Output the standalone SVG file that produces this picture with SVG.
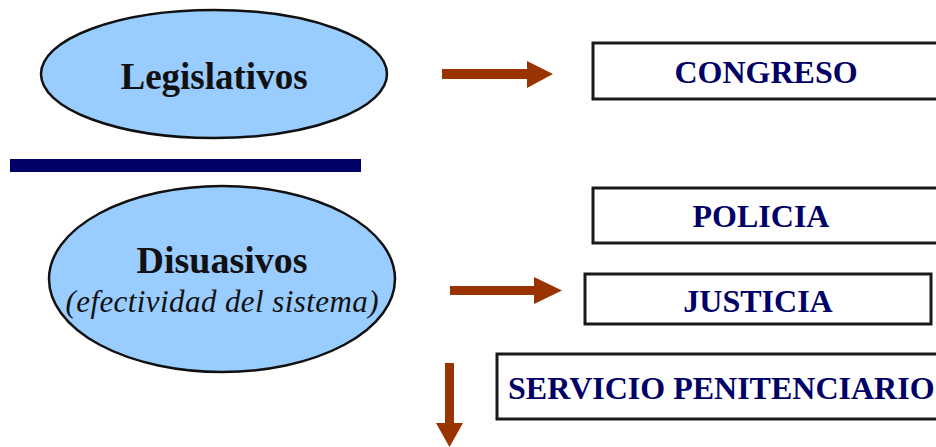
<svg xmlns="http://www.w3.org/2000/svg" width="936" height="447" viewBox="0 0 936 447">
<style>
.ell{fill:#99CCFF;stroke:#111;stroke-width:2.5}
.box{fill:#fff;stroke:#1a1a1a;stroke-width:3}
.et{font-family:"Liberation Serif",serif;font-weight:bold;fill:#111;text-anchor:middle}
.bt{font-family:"Liberation Serif",serif;font-weight:bold;fill:#000066;text-anchor:middle;font-size:32px}
.arr{fill:#993300}
</style>
<rect width="936" height="447" fill="#fff"/>
<g id="legislativos">
<ellipse class="ell" cx="214" cy="74" rx="173" ry="64"/>
<text class="et" x="214" y="89" font-size="37">Legislativos</text>
</g>
<g id="divider">
<rect x="10" y="159" width="351" height="13" fill="#000066"/>
</g>
<g id="disuasivos">
<ellipse class="ell" cx="222" cy="279" rx="173" ry="93"/>
<text class="et" x="222" y="273" font-size="38">Disuasivos</text>
<text x="222" y="312" font-family="Liberation Serif,serif" font-style="italic" font-size="31" fill="#111" text-anchor="middle" textLength="313">(efectividad del sistema)</text>
</g>
<g id="congreso">
<rect class="box" x="593" y="43" width="360" height="56"/>
<text class="bt" x="766" y="83">CONGRESO</text>
</g>
<g id="policia">
<rect class="box" x="593" y="188" width="360" height="55"/>
<text class="bt" x="761" y="227">POLICIA</text>
</g>
<g id="justicia">
<rect class="box" x="585" y="274" width="346" height="50"/>
<text class="bt" x="758" y="312">JUSTICIA</text>
</g>
<g id="servicio">
<rect class="box" x="497" y="354" width="460" height="65"/>
<text class="bt" x="508" y="399" style="text-anchor:start">SERVICIO PENITENCIARIO</text>
</g>
<g id="connectors">
<polygon class="arr" points="442,69 527,69 527,61 553,74 527,88 527,79 442,79"/>
<polygon class="arr" points="450,286 534,286 534,277 562,290.5 534,304 534,295 450,295"/>
<polygon class="arr" points="445,363 454,363 454,423 463,423 449.5,447 436,423 445,423"/>
</g>
</svg>
